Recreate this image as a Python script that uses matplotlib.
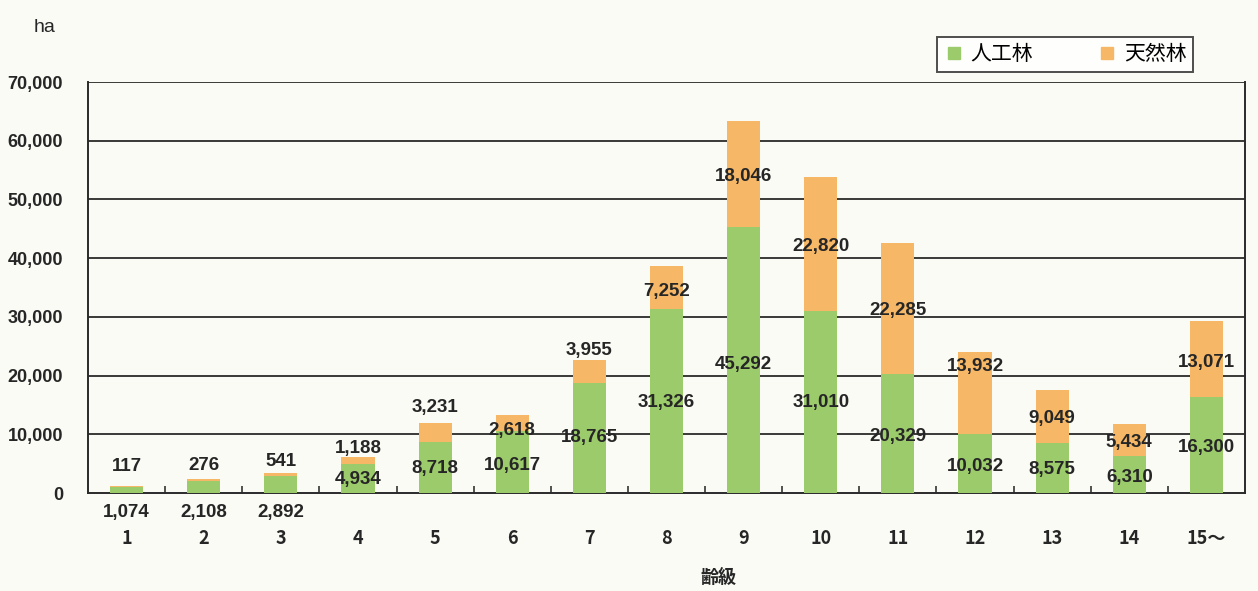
import matplotlib
matplotlib.use("Agg")
import matplotlib.pyplot as plt
from matplotlib.lines import Line2D
import numpy as np

# ---- data ----
categories = ["1", "2", "3", "4", "5", "6", "7", "8", "9", "10", "11", "12", "13", "14", "15～"]
planted = [1074, 2108, 2892, 4934, 8718, 10617, 18765, 31326, 45292, 31010, 20329, 10032, 8575, 6310, 16300]
natural = [117, 276, 541, 1188, 3231, 2618, 3955, 7252, 18046, 22820, 22285, 13932, 9049, 5434, 13071]
series_names = ["人工林", "天然林"]
yticks = [0, 10000, 20000, 30000, 40000, 50000, 60000, 70000]

# ---- label placement (layout, in data units) ----
label_y_natural = [4430, 4600, 5450, 7660, 14480, 10560, 24350, 34400, 53980, 41900, 31000, 21630, 12770, 8520, 22300]
label_y_planted = [-3300, -3300, -3300, 2220, 4090, 4600, 9370, 15330, 21970, 15330, 9700, 4430, 3920, 2560, 7830]

GREEN = "#9ccb6b"
ORANGE = "#f6b867"
BG = "#fbfbf6"
TXT = "#262626"

num_font = ["Liberation Sans Narrow", "Liberation Sans", "DejaVu Sans"]
cjk_font = ["Noto Sans CJK JP", "DejaVu Sans"]

fig = plt.figure(figsize=(12.58, 5.91), dpi=100, facecolor=BG)
ax = fig.add_axes([88 / 1258, (591 - 493) / 591, (1245 - 88) / 1258, (493 - 82) / 591])
ax.set_facecolor(BG)

x = np.arange(len(categories))
w = 0.43
ax.bar(x, planted, w, color=GREEN, zorder=3)
ax.bar(x, natural, w, bottom=planted, color=ORANGE, zorder=3)

ax.set_xlim(-0.5, len(categories) - 0.5)
ax.set_ylim(0, 70000)

for yv in yticks[1:]:
    ax.axhline(yv, color="#2a2a2a", lw=1.3, zorder=1)

ax.set_yticks(yticks)
ax.set_yticklabels([f"{v:,}" for v in yticks], fontsize=13, family=num_font, color=TXT, fontweight="bold")
ax.tick_params(axis="y", length=0, pad=18)

ax.set_xticks(x)
ax.set_xticklabels(categories, fontsize=13, family=["Liberation Sans Narrow", "Noto Sans CJK JP", "DejaVu Sans"],
                   color=TXT, fontweight="bold")
ax.tick_params(axis="x", length=0, pad=26)
ax.set_xticks(np.arange(len(categories) - 1) + 0.5, minor=True)
ax.tick_params(axis="x", which="minor", direction="in", length=5, width=1.2, color="#333333")

for s in ["left", "bottom", "right"]:
    ax.spines[s].set_color("#2a2a2a")
    ax.spines[s].set_linewidth(1.4)
ax.spines["top"].set_visible(False)

for i in range(len(categories)):
    ax.text(x[i], label_y_natural[i], f"{natural[i]:,}", ha="center", va="center",
            fontsize=13.5, family=num_font, color=TXT, fontweight="bold", zorder=5)
    ax.text(x[i], label_y_planted[i], f"{planted[i]:,}", ha="center", va="center",
            fontsize=13.5, family=num_font, color=TXT, fontweight="bold", zorder=5, clip_on=False)

fig.text(45 / 1258, 1 - 27 / 591, "ha", fontsize=14, family=num_font, color=TXT,
         ha="center", va="center")
fig.text(718 / 1258, 1 - 577 / 591, "齢級", fontsize=13, family=cjk_font, color=TXT,
         fontweight="bold", ha="center", va="center")

handles = [Line2D([], [], marker="s", ls="none", markersize=8, color=GREEN),
           Line2D([], [], marker="s", ls="none", markersize=8, color=ORANGE)]
leg = fig.legend(handles, series_names, loc="center",
                 bbox_to_anchor=(937 / 1258, 1 - 72 / 591, 256 / 1258, 35 / 591), mode="expand",
                 ncol=2, frameon=True, fancybox=False, edgecolor="#222222", facecolor="white",
                 prop={"family": cjk_font, "size": 15}, handletextpad=0.3, columnspacing=1.5,
                 borderpad=0.3, handlelength=1.0, borderaxespad=0)
leg.get_frame().set_linewidth(1.4)

fig.savefig("out.png", dpi=100, facecolor=BG)
